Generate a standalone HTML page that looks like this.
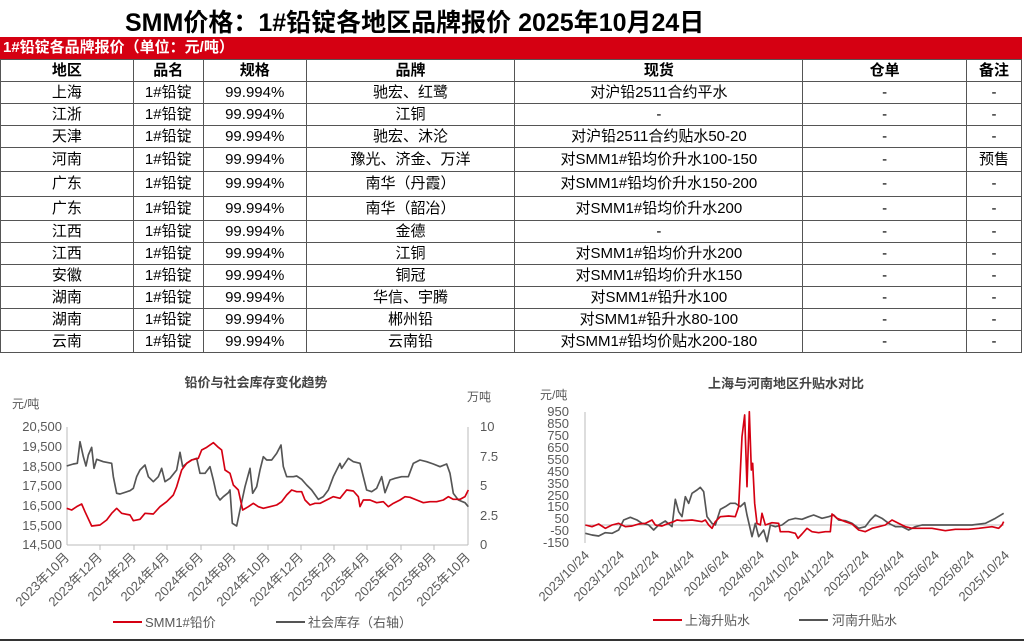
<!DOCTYPE html>
<html><head><meta charset="utf-8"><style>
body{margin:0;width:1024px;height:642px;background:#fff;font-family:"Liberation Sans","Noto Sans CJK SC",sans-serif;overflow:hidden;position:relative}
.title{position:absolute;left:125px;top:3px;white-space:nowrap;font-size:25px;font-weight:bold;color:#000}
.bar{position:absolute;left:0;top:37px;width:1022px;height:22px;background:#d50012;color:#fff;font-weight:bold;font-size:15px;line-height:22px;padding-left:3px;box-sizing:border-box}
table{position:absolute;left:0;top:59px;border-collapse:collapse;width:1022px;font-size:15px}
td{border:1px solid #555;text-align:center;padding:0;height:21px;line-height:20px;white-space:nowrap}
tr.h td{font-weight:bold}
svg text{font-family:"Liberation Sans","Noto Sans CJK SC",sans-serif}
</style></head><body>
<div class="title">SMM价格：1#铅锭各地区品牌报价 2025年10月24日</div>
<div class="bar">1#铅锭各品牌报价（单位：元/吨）</div>
<table>
<colgroup><col style="width:133px"><col style="width:70px"><col style="width:103px"><col style="width:209px"><col style="width:288px"><col style="width:164px"><col style="width:55px"></colgroup>
<tr class="h"><td>地区</td><td>品名</td><td>规格</td><td>品牌</td><td>现货</td><td>仓单</td><td>备注</td></tr>
<tr><td>上海</td><td>1#铅锭</td><td>99.994%</td><td>驰宏、红鹭</td><td>对沪铅2511合约平水</td><td>-</td><td>-</td></tr>
<tr><td>江浙</td><td>1#铅锭</td><td>99.994%</td><td>江铜</td><td>-</td><td>-</td><td>-</td></tr>
<tr><td>天津</td><td>1#铅锭</td><td>99.994%</td><td>驰宏、沐沦</td><td>对沪铅2511合约贴水50-20</td><td>-</td><td>-</td></tr>
<tr style="height:24px"><td>河南</td><td>1#铅锭</td><td>99.994%</td><td>豫光、济金、万洋</td><td>对SMM1#铅均价升水100-150</td><td>-</td><td>预售</td></tr>
<tr style="height:25px"><td>广东</td><td>1#铅锭</td><td>99.994%</td><td>南华（丹霞）</td><td>对SMM1#铅均价升水150-200</td><td>-</td><td>-</td></tr>
<tr style="height:24px"><td>广东</td><td>1#铅锭</td><td>99.994%</td><td>南华（韶冶）</td><td>对SMM1#铅均价升水200</td><td>-</td><td>-</td></tr>
<tr><td>江西</td><td>1#铅锭</td><td>99.994%</td><td>金德</td><td>-</td><td>-</td><td>-</td></tr>
<tr><td>江西</td><td>1#铅锭</td><td>99.994%</td><td>江铜</td><td>对SMM1#铅均价升水200</td><td>-</td><td>-</td></tr>
<tr><td>安徽</td><td>1#铅锭</td><td>99.994%</td><td>铜冠</td><td>对SMM1#铅均价升水150</td><td>-</td><td>-</td></tr>
<tr><td>湖南</td><td>1#铅锭</td><td>99.994%</td><td>华信、宇腾</td><td>对SMM1#铅升水100</td><td>-</td><td>-</td></tr>
<tr><td>湖南</td><td>1#铅锭</td><td>99.994%</td><td>郴州铅</td><td>对SMM1#铅升水80-100</td><td>-</td><td>-</td></tr>
<tr><td>云南</td><td>1#铅锭</td><td>99.994%</td><td>云南铅</td><td>对SMM1#铅均价贴水200-180</td><td>-</td><td>-</td></tr>
</table>

<svg width="1024" height="642" style="position:absolute;left:0;top:0">
<line x1="0" y1="640" x2="1024" y2="640" stroke="#333" stroke-width="2"/>
<!-- left chart -->
<text x="256" y="387" text-anchor="middle" font-size="13" font-weight="bold" fill="#444">铅价与社会库存变化趋势</text>
<text x="12" y="408" font-size="12" fill="#595959">元/吨</text>
<text x="467" y="401" font-size="12" fill="#595959">万吨</text>
<g font-size="13" fill="#595959" text-anchor="end">
<text x="62" y="431">20,500</text><text x="62" y="451">19,500</text><text x="62" y="471">18,500</text><text x="62" y="490">17,500</text><text x="62" y="510">16,500</text><text x="62" y="530">15,500</text><text x="62" y="549">14,500</text>
</g>
<g font-size="13" fill="#595959">
<text x="480" y="431">10</text><text x="480" y="461">7.5</text><text x="480" y="490">5</text><text x="480" y="520">2.5</text><text x="480" y="549">0</text>
</g>
<g stroke="#bbb" stroke-width="1"><line x1="67" y1="427" x2="67" y2="545"/><line x1="468" y1="427" x2="468" y2="545"/><line x1="67" y1="545" x2="468" y2="545"/>
<line x1="100" y1="545" x2="100" y2="550"/><line x1="134" y1="545" x2="134" y2="550"/><line x1="167" y1="545" x2="167" y2="550"/><line x1="201" y1="545" x2="201" y2="550"/><line x1="234" y1="545" x2="234" y2="550"/><line x1="268" y1="545" x2="268" y2="550"/><line x1="301" y1="545" x2="301" y2="550"/><line x1="334" y1="545" x2="334" y2="550"/><line x1="367" y1="545" x2="367" y2="550"/><line x1="401" y1="545" x2="401" y2="550"/><line x1="434" y1="545" x2="434" y2="550"/></g>
<g font-size="13" fill="#595959" text-anchor="end">
<text transform="translate(70,558) rotate(-45)">2023年10月</text><text transform="translate(103,558) rotate(-45)">2023年12月</text><text transform="translate(137,558) rotate(-45)">2024年2月</text><text transform="translate(170,558) rotate(-45)">2024年4月</text><text transform="translate(204,558) rotate(-45)">2024年6月</text><text transform="translate(237,558) rotate(-45)">2024年8月</text><text transform="translate(271,558) rotate(-45)">2024年10月</text><text transform="translate(304,558) rotate(-45)">2024年12月</text><text transform="translate(337,558) rotate(-45)">2025年2月</text><text transform="translate(370,558) rotate(-45)">2025年4月</text><text transform="translate(404,558) rotate(-45)">2025年6月</text><text transform="translate(437,558) rotate(-45)">2025年8月</text><text transform="translate(471,558) rotate(-45)">2025年10月</text>
</g>
<line x1="113" y1="622" x2="142" y2="622" stroke="#d50012" stroke-width="2"/><text x="145" y="627" font-size="13" fill="#595959">SMM1#铅价</text>
<line x1="276" y1="622" x2="305" y2="622" stroke="#555" stroke-width="2"/><text x="308" y="627" font-size="13" fill="#595959">社会库存（右轴）</text>
<g transform="translate(0,360) scale(0.33333)" fill="none" stroke-width="5" stroke-linejoin="round">
<polyline stroke="#555" points="200,318 220,312 232,310 240,245 250,290 258,318 265,285 275,262 282,325 290,298 310,305 335,310 340,350 350,400 360,402 390,392 400,385 410,350 420,330 435,315 445,350 460,365 475,350 485,325 495,365 510,355 530,330 540,277 548,320 560,310 575,300 590,295 600,340 615,340 630,320 640,360 650,405 660,420 670,410 685,398 690,390 697,490 710,498 720,450 735,380 750,325 758,400 770,380 780,330 790,290 800,300 815,300 830,280 843,255 850,320 860,350 880,350 890,348 905,358 920,375 935,390 955,418 970,410 985,390 1000,350 1010,330 1020,310 1025,325 1045,295 1060,305 1080,310 1100,390 1115,395 1130,385 1145,350 1155,398 1170,360 1185,355 1205,350 1225,350 1240,310 1260,300 1280,305 1300,312 1320,320 1340,312 1350,340 1360,400 1375,420 1395,428 1405,440"/>
<polyline stroke="#d50012" points="200,445 215,450 230,440 245,432 255,455 275,498 300,495 320,480 335,460 350,445 365,460 390,465 400,482 420,478 435,460 460,462 480,440 500,425 520,405 530,380 545,330 560,310 575,300 595,295 605,270 620,262 640,248 655,262 665,270 675,330 690,340 700,375 715,390 728,450 745,440 760,430 775,440 790,445 810,440 830,435 845,425 860,405 875,390 890,395 905,395 915,420 930,435 945,430 960,430 980,420 1000,410 1020,415 1040,390 1060,393 1075,410 1080,440 1090,420 1110,420 1130,428 1150,425 1165,440 1180,430 1200,420 1215,410 1230,412 1250,420 1270,428 1290,425 1310,425 1330,420 1345,410 1360,418 1380,418 1395,410 1405,390"/>
</g>
<!-- right chart -->
<text x="786" y="388" text-anchor="middle" font-size="13" font-weight="bold" fill="#444">上海与河南地区升贴水对比</text>
<text x="540" y="399" font-size="12" fill="#595959">元/吨</text>
<g font-size="13" fill="#595959" text-anchor="end">
<text x="569" y="416">950</text><text x="569" y="428">850</text><text x="569" y="440">750</text><text x="569" y="452">650</text><text x="569" y="464">550</text><text x="569" y="476">450</text><text x="569" y="488">350</text><text x="569" y="500">250</text><text x="569" y="511">150</text><text x="569" y="523">50</text><text x="569" y="535">-50</text><text x="569" y="547">-150</text>
</g>
<g stroke="#bbb"><line x1="585" y1="412" x2="585" y2="543"/><line x1="585" y1="525" x2="1004" y2="525"/></g>
<g font-size="13" fill="#595959" text-anchor="end">
<text transform="translate(590,556) rotate(-45)">2023/10/24</text><text transform="translate(625,556) rotate(-45)">2023/12/24</text><text transform="translate(660,556) rotate(-45)">2024/2/24</text><text transform="translate(695,556) rotate(-45)">2024/4/24</text><text transform="translate(730,556) rotate(-45)">2024/6/24</text><text transform="translate(765,556) rotate(-45)">2024/8/24</text><text transform="translate(800,556) rotate(-45)">2024/10/24</text><text transform="translate(835,556) rotate(-45)">2024/12/24</text><text transform="translate(870,556) rotate(-45)">2025/2/24</text><text transform="translate(905,556) rotate(-45)">2025/4/24</text><text transform="translate(940,556) rotate(-45)">2025/6/24</text><text transform="translate(975,556) rotate(-45)">2025/8/24</text><text transform="translate(1010,556) rotate(-45)">2025/10/24</text>
</g>
<line x1="653" y1="620" x2="682" y2="620" stroke="#d50012" stroke-width="2"/><text x="685" y="625" font-size="13" fill="#595959">上海升贴水</text>
<line x1="799" y1="620" x2="828" y2="620" stroke="#555" stroke-width="2"/><text x="832" y="625" font-size="13" fill="#595959">河南升贴水</text>
<g transform="translate(512,360) scale(0.33333)" fill="none" stroke-width="5" stroke-linejoin="round">
<polyline stroke="#555" points="220,520 240,525 260,528 280,518 300,520 320,510 335,480 355,472 375,480 390,490 410,495 425,510 440,495 460,483 480,500 490,418 500,455 510,470 520,410 530,430 540,400 555,390 565,382 575,395 585,470 600,490 610,495 625,448 640,440 655,430 670,430 685,440 698,428 705,465 712,495 720,530 730,490 740,530 755,510 765,545 775,495 790,500 810,495 830,480 850,475 870,478 890,470 905,465 930,475 950,470 965,465 980,480 1000,482 1020,490 1040,505 1060,500 1075,480 1090,465 1110,475 1130,490 1150,500 1170,500 1190,510 1210,500 1230,495 1260,495 1300,495 1340,495 1380,495 1420,490 1450,475 1475,460"/>
<polyline stroke="#d50012" points="220,495 240,500 260,492 280,505 300,495 320,490 340,500 360,498 380,492 400,490 420,480 430,495 450,498 470,490 485,485 495,480 510,482 540,480 570,485 580,480 590,495 600,505 610,485 625,470 650,468 670,470 680,440 690,230 698,165 705,380 712,155 718,330 722,310 728,430 735,490 745,495 750,460 760,495 780,488 800,490 805,515 830,515 850,520 858,535 870,522 885,505 900,515 920,518 940,515 955,515 960,462 975,475 1000,485 1020,492 1040,510 1060,515 1080,505 1100,500 1120,495 1140,480 1160,490 1180,500 1200,505 1220,505 1260,505 1300,512 1330,508 1370,508 1400,505 1440,500 1460,505 1470,495 1475,485"/>
</g>
</svg>
</body></html>
